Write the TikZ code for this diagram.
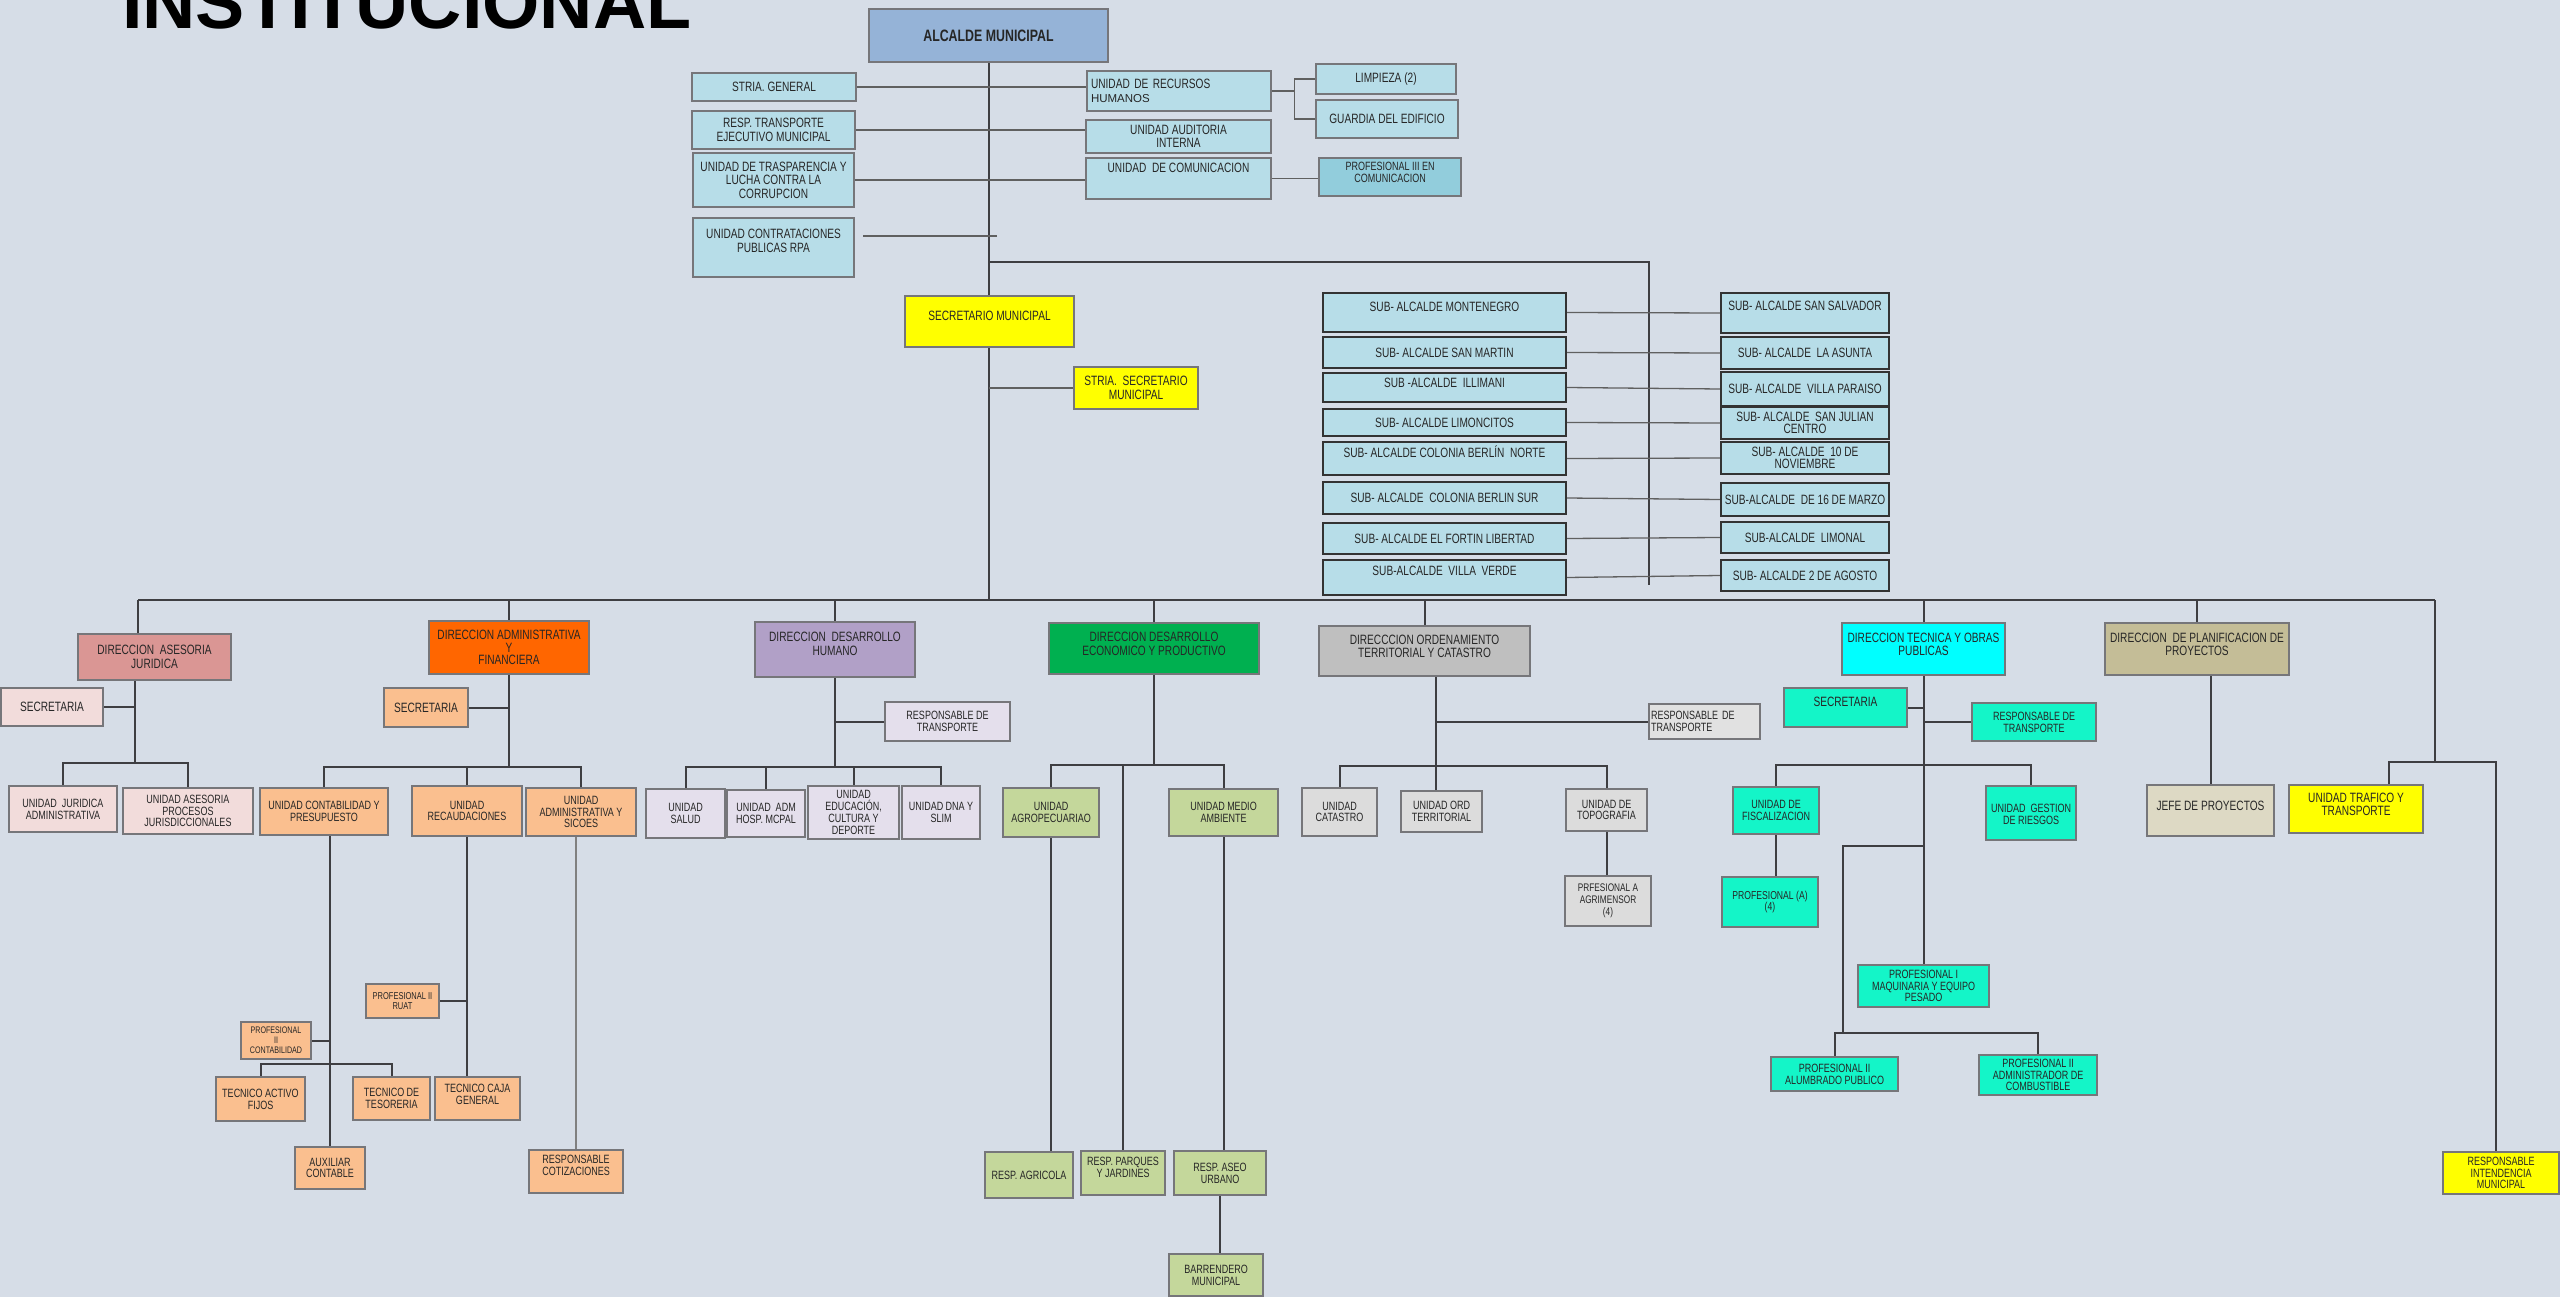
\documentclass[tikz,border=0pt]{standalone}
\usepackage{fontspec}
\setmainfont{Liberation Sans}[FakeStretch=0.75]
\newfontfamily\widefont{Liberation Sans}
\usepackage{xcolor}
\usepackage{tikz}
\usetikzlibrary{positioning}

\definecolor{fondo}{RGB}{214,221,231}
\definecolor{linegray}{RGB}{62,62,66}
\definecolor{boxgray}{RGB}{118,118,122}
\definecolor{azulalc}{RGB}{149,179,215}
\definecolor{celeste}{RGB}{183,221,232}
\definecolor{celeste2}{RGB}{146,205,220}
\definecolor{amarillo}{RGB}{255,255,0}
\definecolor{rosa}{RGB}{218,150,148}
\definecolor{rosaclaro}{RGB}{242,220,219}
\definecolor{naranja}{RGB}{255,102,0}
\definecolor{naranjaclaro}{RGB}{250,191,143}
\definecolor{lila}{RGB}{177,160,199}
\definecolor{lilaclaro}{RGB}{228,223,236}
\definecolor{verde}{RGB}{0,176,80}
\definecolor{verdeclaro}{RGB}{196,215,155}
\definecolor{gris}{RGB}{191,191,191}
\definecolor{grisclaro}{RGB}{220,220,220}
\definecolor{cian}{RGB}{0,255,255}
\definecolor{aguamarina}{RGB}{20,245,200}
\definecolor{arena}{RGB}{196,189,151}
\definecolor{arenaclaro}{RGB}{221,217,196}

\pgfdeclarelayer{background}
\pgfsetlayers{background,main}

\begin{document}
\begin{tikzpicture}[x=1pt,y=1pt,yscale=-1,xscale=1,
  box/.style={draw=boxgray, line width=1.2pt, inner sep=1pt, align=center,
    text=black!85, font=\fontsize{12}{11.8}\selectfont},
  big/.style={font=\fontsize{13.5}{13.5}\selectfont},
  small/.style={font=\fontsize{10}{10.5}\selectfont},
  top/.style={box, big, fill=celeste},
  subbox/.style={box, big, draw=black!80, line width=2.4pt, fill=celeste},
  dims/.style 2 args={minimum width=#1pt, minimum height=#2pt},
  link/.style={draw=linegray, line width=2pt},
  thinlink/.style={draw=gray!75!black, line width=1.3pt}]
\useasboundingbox (0,0) rectangle (2560,1297);

% Title
\node[anchor=base west, inner sep=0pt, font=\widefont\bfseries\fontsize{73.7}{74}\selectfont]
  (title) at (122,29) {INSTITUCIONAL};

% Alcaldia and top units
\node[box, fill=azulalc, dims={239}{53}, font=\bfseries\fontsize{16.5}{16.5}\selectfont] (alcalde) at (988.5,35.5) {ALCALDE MUNICIPAL};
\node[top, dims={164}{28}] (sgen) at (774,87) {STRIA. GENERAL};
\node[top, dims={163}{38}] (rtrans) at (773.5,130) {RESP. TRANSPORTE\\EJECUTIVO MUNICIPAL};
\node[top, dims={161}{54}] (trasp) at (773.5,180) {UNIDAD DE TRASPARENCIA Y\\LUCHA CONTRA LA\\CORRUPCION};
\node[top, dims={161}{59}] (contrat) at (773.5,247.5) {UNIDAD CONTRATACIONES\\PUBLICAS RPA\\\mbox{}};
\node[top, dims={184}{40}, text width=176pt, align=left] (rrhh) at (1179,91)
  {UNIDAD DE RECURSOS\\{\widefont\fontsize{11.5}{12}\selectfont HUMANOS}};
\node[top, dims={185}{33}] (audit) at (1178.5,136.5) {UNIDAD AUDITORIA\\INTERNA};
\node[top, dims={185}{41}] (comun) at (1178.5,178.5) {UNIDAD\ \ DE COMUNICACION\\[8pt]\mbox{}};
\node[top, dims={140}{30}] (limp) at (1386,79) {LIMPIEZA (2)};
\node[top, dims={142}{38}] (guard) at (1387,119) {GUARDIA DEL EDIFICIO};
\node[box, fill=celeste2, dims={142}{38}] (prof3) at (1390,177) {PROFESIONAL III EN\\COMUNICACION\\[-3pt]\mbox{}};

% Secretaria municipal
\node[box, big, fill=amarillo, dims={169}{51}] (secmun) at (989.5,321.5) {SECRETARIO MUNICIPAL\\[-3pt]\mbox{}};
\node[box, big, fill=amarillo, dims={124}{42}] (strsec) at (1136,388) {STRIA.\ \ SECRETARIO\\MUNICIPAL};

% Sub-alcaldes
\node[subbox, dims={243}{39}] (montenegro) at (1444.5,312.5) {SUB- ALCALDE MONTENEGRO\\[-3pt]\mbox{}};
\node[subbox, dims={243}{31}] (sanmartin) at (1444.5,352.5) {SUB- ALCALDE SAN MARTIN};
\node[subbox, dims={243}{29}] (illimani) at (1444.5,387.5) {SUB -ALCALDE\ \ ILLIMANI\\[-4pt]\mbox{}};
\node[subbox, dims={243}{27}] (limoncitos) at (1444.5,422.5) {SUB- ALCALDE LIMONCITOS};
\node[subbox, dims={243}{33}] (berlinn) at (1444.5,458.5) {SUB- ALCALDE COLONIA BERLÍN\ \ NORTE\\\mbox{}};
\node[subbox, dims={243}{32}] (berlins) at (1444.5,498) {SUB- ALCALDE\ \ COLONIA BERLIN SUR};
\node[subbox, dims={243}{31}] (fortin) at (1444.5,538.5) {SUB- ALCALDE EL FORTIN LIBERTAD};
\node[subbox, dims={243}{35}] (villaverde) at (1444.5,577.5) {SUB-ALCALDE\ \ VILLA\ \ VERDE\\\mbox{}};
\node[subbox, dims={168}{40}] (sansalvador) at (1805,313) {SUB- ALCALDE SAN SALVADOR\\\mbox{}};
\node[subbox, dims={168}{32}] (asunta) at (1805,353) {SUB- ALCALDE\ \ LA ASUNTA};
\node[subbox, dims={168}{34}] (paraiso) at (1805,389) {SUB- ALCALDE\ \ VILLA PARAISO};
\node[subbox, dims={168}{32}, font=\fontsize{13.5}{12}\selectfont] (sanjulian) at (1805,423) {SUB- ALCALDE\ \ SAN JULIAN\\CENTRO};
\node[subbox, dims={168}{32}, font=\fontsize{13.5}{12.5}\selectfont] (noviembre) at (1805,458) {SUB- ALCALDE\ \ 10 DE\\NOVIEMBRE};
\node[subbox, dims={168}{33}] (marzo) at (1805,499.5) {SUB-ALCALDE\ \ DE 16 DE MARZO};
\node[subbox, dims={168}{31}] (limonal) at (1805,537.5) {SUB-ALCALDE\ \ LIMONAL};
\node[subbox, dims={168}{31}] (agosto) at (1805,575.5) {SUB- ALCALDE 2 DE AGOSTO};

% Direcciones
\node[box, big, fill=rosa, dims={153}{46}] (djur) at (154.5,657) {DIRECCION\ \ ASESORIA\\JURIDICA};
\node[box, big, fill=naranja, dims={160}{53}, font=\fontsize{13.5}{12.5}\selectfont] (dadm) at (509,647.5) {DIRECCION ADMINISTRATIVA\\Y\\FINANCIERA};
\node[box, big, fill=lila, dims={160}{55}] (dhum) at (835,649.5) {DIRECCION\ \ DESARROLLO\\HUMANO\\[-2pt]\mbox{}};
\node[box, big, fill=verde, dims={210}{51}] (deco) at (1154,648.5) {DIRECCION DESARROLLO\\ECONOMICO Y PRODUCTIVO\\[-4pt]\mbox{}};
\node[box, big, fill=gris, dims={211}{50}] (dord) at (1424.5,651) {DIRECCCION ORDENAMIENTO\\TERRITORIAL Y CATASTRO\\[-4pt]\mbox{}};
\node[box, big, fill=cian, dims={163}{52}] (dtec) at (1923.5,649) {DIRECCION TECNICA Y OBRAS\\PUBLICAS\\[-4pt]\mbox{}};
\node[box, big, fill=arena, dims={184}{52}] (dplan) at (2197,649) {DIRECCION\ \ DE PLANIFICACION DE\\PROYECTOS\\[-4pt]\mbox{}};

% Asesoria juridica
\node[box, big, fill=rosaclaro, dims={102}{38}] (secjur) at (52,707) {SECRETARIA};
\node[box, fill=rosaclaro, dims={108}{46}] (ujadm) at (63,809) {UNIDAD\ \ JURIDICA\\ADMINISTRATIVA};
\node[box, fill=rosaclaro, dims={130}{46}] (uasp) at (188,811) {UNIDAD ASESORIA\\PROCESOS\\JURISDICCIONALES};

% Administrativa y financiera
\node[box, big, fill=naranjaclaro, dims={84}{39}] (secadm) at (426,707.5) {SECRETARIA};
\node[box, fill=naranjaclaro, dims={128}{47}] (ucont) at (324,811.5) {UNIDAD CONTABILIDAD Y\\PRESUPUESTO};
\node[box, fill=naranjaclaro, dims={110}{50}] (urec) at (467,811) {UNIDAD\\RECAUDACIONES};
\node[box, fill=naranjaclaro, dims={110}{48}] (usic) at (581,812) {UNIDAD\\ADMINISTRATIVA Y\\SICOES};
\node[box, fill=naranjaclaro, dims={70}{37}, font=\fontsize{9.5}{10}\selectfont] (prof2c) at (276,1040.5) {PROFESIONAL\\II\\CONTABILIDAD};
\node[box, fill=naranjaclaro, dims={89}{44}] (tafij) at (260.5,1099) {TECNICO ACTIVO\\FIJOS};
\node[box, fill=naranjaclaro, dims={77}{43}] (ttes) at (391.5,1098.5) {TECNICO DE\\TESORERIA};
\node[box, fill=naranjaclaro, dims={70}{42}] (auxc) at (330,1168) {AUXILIAR\\CONTABLE};
\node[box, small, fill=naranjaclaro, dims={73}{34}] (prof2r) at (402.5,1001) {PROFESIONAL II\\RUAT};
\node[box, fill=naranjaclaro, dims={85}{43}] (tcaja) at (477.5,1098.5) {TECNICO CAJA\\GENERAL\\[-3pt]\mbox{}};
\node[box, fill=naranjaclaro, dims={94}{43}] (rcot) at (576,1171.5) {RESPONSABLE\\COTIZACIONES\\\mbox{}};

% Desarrollo humano
\node[box, fill=lilaclaro, dims={125}{39}] (rthum) at (947.5,721.5) {RESPONSABLE DE\\TRANSPORTE};
\node[box, fill=lilaclaro, dims={79}{49}] (usal) at (685.5,813.5) {UNIDAD\\SALUD};
\node[box, fill=lilaclaro, dims={78}{47}] (uhosp) at (766,813.5) {UNIDAD\ \ ADM\\HOSP. MCPAL};
\node[box, fill=lilaclaro, dims={91}{53}] (uedu) at (853.5,812.5) {UNIDAD\\EDUCACIÓN,\\CULTURA Y\\DEPORTE};
\node[box, fill=lilaclaro, dims={78}{53}] (udna) at (941,812.5) {UNIDAD DNA Y\\SLIM};

% Desarrollo economico
\node[box, fill=verdeclaro, dims={96}{49}] (uagro) at (1051,812.5) {UNIDAD\\AGROPECUARIAO};
\node[box, fill=verdeclaro, dims={109}{47}] (umed) at (1223.5,812.5) {UNIDAD MEDIO\\AMBIENTE};
\node[box, fill=verdeclaro, dims={88}{46}] (ragri) at (1029,1175) {RESP. AGRICOLA};
\node[box, fill=verdeclaro, dims={84}{44}] (rparq) at (1123,1173) {RESP. PARQUES\\Y JARDINES\\\mbox{}};
\node[box, fill=verdeclaro, dims={92}{44}] (raseo) at (1220,1173) {RESP. ASEO\\URBANO};
\node[box, fill=verdeclaro, dims={94}{42}] (barr) at (1216,1275) {BARRENDERO\\MUNICIPAL};

% Ordenamiento territorial
\node[box, fill=grisclaro!85!white, dims={111}{35}, text width=107pt, align=left] (rtord) at (1704.5,721.5) {RESPONSABLE DE\\TRANSPORTE};
\node[box, fill=grisclaro, dims={75}{48}] (ucat) at (1339.5,812) {UNIDAD\\CATASTRO};
\node[box, fill=grisclaro, dims={81}{41}] (uordt) at (1441.5,811.5) {UNIDAD ORD\\TERRITORIAL};
\node[box, fill=grisclaro, dims={81}{42}] (utop) at (1606.5,810) {UNIDAD DE\\TOPOGRAFIA};
\node[box, fill=grisclaro, dims={86}{50}, font=\fontsize{11}{12}\selectfont] (pagr) at (1608,901) {PRFESIONAL A\\AGRIMENSOR\\(4)};

% Tecnica y obras publicas
\node[box, big, fill=aguamarina, dims={123}{39}] (sectec) at (1845.5,707.5) {SECRETARIA\\[-3pt]\mbox{}};
\node[box, fill=aguamarina, dims={124}{38}] (rttec) at (2034,722) {RESPONSABLE DE\\TRANSPORTE};
\node[box, fill=aguamarina, dims={86}{47}] (ufis) at (1776,810.5) {UNIDAD DE\\FISCALIZACION};
\node[box, fill=aguamarina, dims={90}{54}] (ugr) at (2031,813) {\mbox{}\\UNIDAD\ \ GESTION\\DE RIESGOS};
\node[box, fill=aguamarina, dims={96}{50}, font=\fontsize{11.5}{11.5}\selectfont] (profa) at (1770,902) {PROFESIONAL (A)\\(4)};
\node[box, fill=aguamarina, dims={131}{42}] (pmaq) at (1923.5,986) {PROFESIONAL I\\MAQUINARIA Y EQUIPO\\PESADO};
\node[box, fill=aguamarina, dims={127}{34}] (palum) at (1834.5,1074) {PROFESIONAL II\\ALUMBRADO PUBLICO};
\node[box, fill=aguamarina, dims={118}{40}] (pcomb) at (2038,1075) {PROFESIONAL II\\ADMINISTRADOR DE\\COMBUSTIBLE};

% Planificacion and others
\node[box, big, fill=arenaclaro, dims={127}{51}] (jefe) at (2210.5,810.5) {JEFE DE PROYECTOS\\[-5pt]\mbox{}};
\node[box, big, fill=amarillo, dims={134}{48}] (utraf) at (2356,809) {UNIDAD TRAFICO Y\\TRANSPORTE\\[-4pt]\mbox{}};
\node[box, fill=amarillo, dims={116}{42}] (rint) at (2501,1173) {RESPONSABLE\\INTENDENCIA\\MUNICIPAL};

% Connectors
\coordinate (busC) at (988.5,600);
\coordinate (busL) at (138,600);
\coordinate (busR) at (2435,600);
\coordinate (subTop) at (1649,262);
\coordinate (subBot) at (1649,585);
\coordinate (cprEnd) at (997,236);
\coordinate (jurV) at (135,763);
\coordinate (admV) at (508,767);
\coordinate (tesBar) at (330,1064);
\coordinate (humV) at (835,767);
\coordinate (ecoV) at (1154,765);
\coordinate (ordV) at (1436,766);
\coordinate (tecV) at (1921,765);
\coordinate (almV) at (1843,846);
\coordinate (almBar) at (1843,1033);
\coordinate (trafBar) at (2435,762);
\coordinate (trafL) at (2389,762);
\coordinate (trafR) at (2496,762);

\begin{pgfonlayer}{background}
\fill[fondo] (0,0) rectangle (2560,1297);

%Straight Lines
\draw[link] (alcalde.south) -- (busC);
\draw[thinlink] (sgen.east) -- (sgen.east -| rrhh.west);
\draw[thinlink] (rtrans.east) -- (rtrans.east -| audit.west);
\draw[thinlink] (trasp.east) -- (trasp.east -| comun.west);
\draw[thinlink] (cprEnd) -- ([xshift=8pt]cprEnd -| contrat.east);
\draw[thinlink] (rrhh.east) -- ++(23,0) coordinate (rb);
\draw[thinlink] (limp.west) -| (rb) |- (guard.west);
\draw[thinlink] (comun.east) -- (comun.east -| prof3.west);
\draw[thinlink] (strsec.west) -- (strsec.west -| busC);

% Sub-alcaldes
\draw[link] (busC |- subTop) -- (subTop) -- (subBot);
\foreach \a/\b in {montenegro/sansalvador, sanmartin/asunta, illimani/paraiso,
  limoncitos/sanjulian, berlinn/noviembre, berlins/marzo, fortin/limonal, villaverde/agosto}
  \draw[thinlink] (\a.east) -- (\b.west);

% Main bus
\draw[link] (busL) -- (busR);
\draw[link] (busL) -- (busL |- djur.north);
\foreach \d in {dadm,dhum,deco,dord,dtec,dplan}
  \draw[link] (\d.north) -- (\d.north |- busL);
\draw[link] (busR) -- (trafBar);
\draw[link] (trafL |- utraf.north) -- (trafL) -- (trafR) -- (trafR |- rint.north);

% Juridica
\draw[link] (jurV |- djur.south) -- (jurV);
\draw[link] (secjur.east) -- (secjur.east -| jurV);
\draw[link] (ujadm.north) -- (ujadm.north |- jurV) -- (uasp.north |- jurV) -- (uasp.north);

% Administrativa
\draw[link] (dadm.south) -- (dadm.south |- admV);
\draw[link] (secadm.east) -- (secadm.east -| admV);
\draw[link] (ucont.north) -- (ucont.north |- admV) -- (usic.north |- admV) -- (usic.north);
\draw[link] (urec.north) -- (urec.north |- admV);
\draw[link] (auxc.north) -- (auxc.north |- ucont.south);
\draw[link] (prof2c.east) -- (prof2c.east -| auxc.north);
\draw[link] (tafij.north) -- (tafij.north |- tesBar) -- (ttes.north |- tesBar) -- (ttes.north);
\draw[link] (urec.south) -- (urec.south |- tcaja.north);
\draw[link] (prof2r.east) -- (prof2r.east -| urec.south);
\draw[thinlink, draw=gray] (rcot.north) -- (rcot.north |- usic.south);

% Humano
\draw[link] (dhum.south) -- (humV);
\draw[link] (rthum.west) -- (rthum.west -| humV);
\draw[link] (usal.north) -- (usal.north |- humV) -- (udna.north |- humV) -- (udna.north);
\draw[link] (uhosp.north) -- (uhosp.north |- humV);
\draw[link] (uedu.north) -- (uedu.north |- humV);

% Economico
\draw[link] (deco.south) -- (ecoV);
\draw[link] (uagro.north) -- (uagro.north |- ecoV) -- (umed.north |- ecoV) -- (umed.north);
\draw[link] (rparq.north) -- (rparq.north |- ecoV);
\draw[link] (uagro.south) -- (uagro.south |- ragri.north);
\draw[link] (umed.south) -- (umed.south |- raseo.north);
\draw[link] (raseo.south) -- (raseo.south |- barr.north);

% Ordenamiento
\draw[link] (ordV |- dord.south) -- (ordV);
\draw[link] (rtord.west) -- (rtord.west -| ordV);
\draw[link] (ucat.north) -- (ucat.north |- ordV) -- (utop.north |- ordV) -- (utop.north);
\draw[link] (ordV) -- (ordV |- uordt.north);
\draw[link] (utop.south) -- (utop.south |- pagr.north);

% Tecnica
\draw[link] (dtec.south) -- (dtec.south |- pmaq.north);
\draw[link] (sectec.east) -- (sectec.east -| dtec.south);
\draw[link] (rttec.west) -- (rttec.west -| dtec.south);
\draw[link] (ufis.north) -- (ufis.north |- tecV) -- (ugr.north |- tecV) -- (ugr.north);
\draw[link] (ufis.south) -- (ufis.south |- profa.north);
\draw[link] (almV -| dtec.south) -- (almV) -- (almBar);
\draw[link] (palum.north) -- (palum.north |- almBar) -- (pcomb.north |- almBar) -- (pcomb.north);

% Planificacion
\draw[link] (jefe.north) -- (jefe.north |- dplan.south);
\end{pgfonlayer}

\end{tikzpicture}
\end{document}
